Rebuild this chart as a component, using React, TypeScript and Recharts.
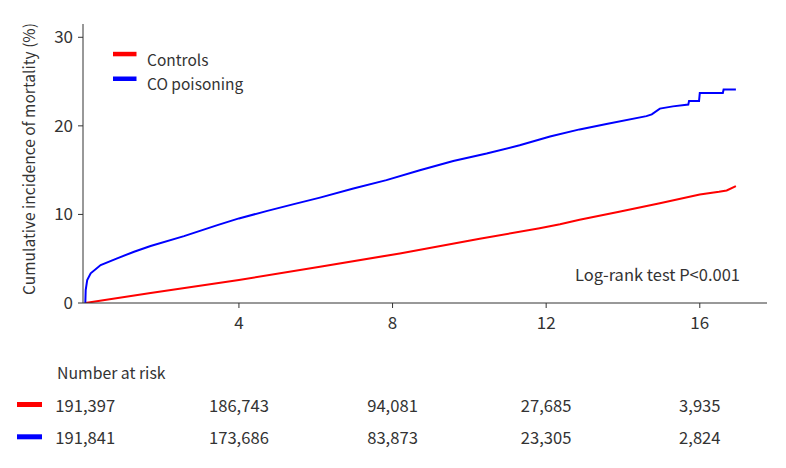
import React from "react";
import {
  LineChart,
  Line,
  XAxis,
  YAxis,
  Legend,
  ScatterChart,
  Scatter,
} from "recharts";

// ---- data ----
const controlsT = [0, 1.7, 4, 6.11, 8.19, 10.27, 11.83, 12.36, 12.87, 13.9, 14.96, 16, 16.5, 16.7, 16.94];
const controlsV = [0, 1.14, 2.6, 4.1, 5.6, 7.25, 8.45, 8.9, 9.4, 10.3, 11.27, 12.25, 12.55, 12.7, 13.2];

const coT = [0, 0.01, 0.05, 0.14, 0.4, 0.83, 1.27, 1.7, 2.57, 3.44, 4.0, 4.74, 5.43, 6.11, 6.98, 7.84, 8.71, 9.58, 10.45, 11.31, 11.83, 12.1, 12.87, 13.57, 14.61, 14.75, 14.96, 15.3, 15.7, 15.72, 15.98, 16.0, 16.6, 16.62, 16.94];
const coV = [0, 1.47, 2.6, 3.35, 4.28, 5.04, 5.79, 6.43, 7.55, 8.79, 9.55, 10.4, 11.16, 11.9, 12.93, 13.87, 14.99, 16.04, 16.88, 17.81, 18.45, 18.8, 19.6, 20.2, 21.1, 21.3, 21.95, 22.2, 22.4, 22.8, 22.8, 23.7, 23.7, 24.1, 24.1];

const xTicks = [4, 8, 12, 16];
const yTicks = [0, 10, 20, 30];

const riskTimes = [0, 4, 8, 12, 16];
const riskControls = ["191,397", "186,743", "94,081", "27,685", "3,935"];
const riskCO = ["191,841", "173,686", "83,873", "23,305", "2,824"];

const seriesNames = ["Controls", "CO poisoning"];
const seriesColors = ["#ff0000", "#0000ff"];

const yLabel = "Cumulative incidence of mortality (%)";
const pText = "Log-rank test P<0.001";
const riskTitle = "Number at risk";

// ---- build tables ----
const controlsData = controlsT.map((t, i) => ({ t, v: controlsV[i] }));
const coData = coT.map((t, i) => ({ t, v: coV[i] }));
const riskRowControls = riskTimes.map((t, i) => ({ t, row: 1, label: riskControls[i] }));
const riskRowCO = riskTimes.map((t, i) => ({ t, row: 0, label: riskCO[i] }));

const FONT = "'Noto Sans CJK KR', 'Noto Sans', sans-serif";
const TEXT = "#333333";
const AXIS = "#333333";
const X_DOMAIN: [number, number] = [-0.06, 17.75];

const LegendContent = () => (
  <svg width={180} height={62}>
    {seriesNames.map((n, i) => (
      <g key={n}>
        <rect x={0} y={9.8 + i * 24.7} width={23.5} height={4.5} fill={seriesColors[i]} />
        <text
          x={34}
          y={16.5 + i * 24.5}
          dominantBaseline="central"
          fontFamily={FONT}
          fontSize={15.5}
          fill={TEXT}
        >
          {n}
        </text>
      </g>
    ))}
  </svg>
);

const RiskText = (props: any) => (
  <text
    x={props.cx}
    y={props.cy}
    textAnchor="middle"
    dominantBaseline="central"
    fontFamily={FONT}
    fontSize={16.6}
    fill={TEXT}
  >
    {props.payload.label}
  </text>
);

export default function App() {
  return (
    <div style={{ position: "relative", width: 770, height: 452, fontFamily: FONT }}>
      <LineChart
        width={770}
        height={330}
        margin={{ top: 16, right: 11, bottom: 5, left: 14 }}
      >
        <XAxis
          type="number"
          dataKey="t"
          domain={X_DOMAIN}
          allowDataOverflow
          ticks={xTicks}
          tickSize={5}
          tickMargin={9}
          height={30}
          stroke={AXIS}
          tick={{ fill: TEXT, fontSize: 17, fontFamily: FONT }}
        />
        <YAxis
          type="number"
          domain={[0, 31.5]}
          allowDataOverflow
          ticks={yTicks}
          tickSize={5}
          tickMargin={5}
          width={61}
          stroke={AXIS}
          tick={{ fill: TEXT, fontSize: 17, fontFamily: FONT }}
        />
        <Legend
          layout="vertical"
          align="center"
          verticalAlign="middle"
          wrapperStyle={{ left: 105, top: 34, width: 180, height: 62 }}
          content={LegendContent}
        />
        <Line
          data={controlsData}
          dataKey="v"
          name={seriesNames[0]}
          stroke={seriesColors[0]}
          strokeWidth={2}
          dot={false}
          activeDot={false}
          type="linear"
          isAnimationActive={false}
        />
        <Line
          data={coData}
          dataKey="v"
          name={seriesNames[1]}
          stroke={seriesColors[1]}
          strokeWidth={2}
          dot={false}
          activeDot={false}
          type="linear"
          isAnimationActive={false}
        />
      </LineChart>

      <ScatterChart
        width={770}
        height={122}
        margin={{ top: 67, right: 11, bottom: 23, left: 14 }}
      >
        <XAxis type="number" dataKey="t" domain={X_DOMAIN} hide />
        <YAxis
          type="number"
          dataKey="row"
          domain={[0, 1]}
          width={61}
          axisLine={false}
          tickLine={false}
          tick={false}
        />
        <Scatter data={riskRowControls} shape={RiskText} isAnimationActive={false} />
        <Scatter data={riskRowCO} shape={RiskText} isAnimationActive={false} />
      </ScatterChart>

      <svg
        width={770}
        height={452}
        style={{ position: "absolute", left: 0, top: 0, pointerEvents: "none" }}
      >
        <text
          transform="translate(20,151) rotate(-90)"
          textAnchor="middle"
          dominantBaseline="central"
          fontFamily={FONT}
          fontSize={15.5}
          fill={TEXT}
        >
          {yLabel}
        </text>
        <text
          x={732}
          y={266}
          textAnchor="end"
          dominantBaseline="central"
          fontFamily={FONT}
          fontSize={16.5}
          fill={TEXT}
        >
          {pText}
        </text>
        <text
          x={49}
          y={364}
          dominantBaseline="central"
          fontFamily={FONT}
          fontSize={15.8}
          fill={TEXT}
        >
          {riskTitle}
        </text>
        {seriesColors.map((c, i) => (
          <rect key={c} x={9} y={394 + i * 32.3} width={25} height={5} fill={c} />
        ))}
      </svg>
    </div>
  );
}
